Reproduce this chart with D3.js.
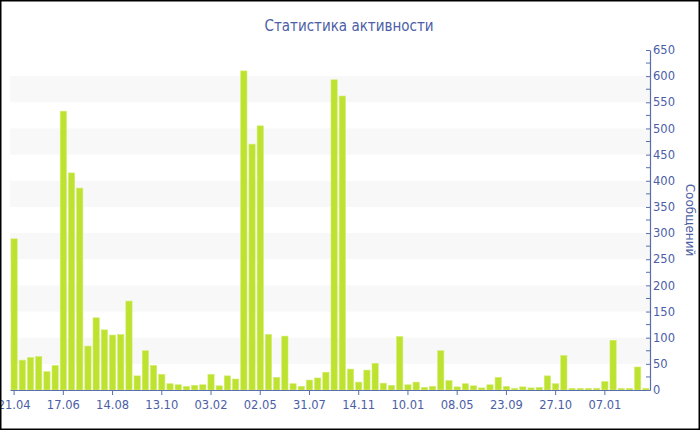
<!DOCTYPE html>
<html>
<head>
<meta charset="utf-8">
<script src="https://cdn.jsdelivr.net/npm/d3@7/dist/d3.min.js"></script>
<style>
  html, body { margin: 0; padding: 0; background: #fff; }
  svg { display: block; }
</style>
</head>
<body>
<div id="chart"></div>
<script>
const titleText = "Статистика активности";
const yAxisTitle = "Сообщений";
const values = [289, 57, 62, 64, 35, 47, 533, 415, 386, 84, 138, 115, 105, 106, 170, 27, 75, 47, 30, 12,
  10, 7, 9, 10, 30, 8, 27, 21, 610, 470, 505, 106, 24, 103, 12, 7, 19, 23, 34, 593,
  562, 40, 15, 38, 51, 13, 9, 102, 10, 15, 5, 7, 75, 18, 6, 12, 8, 4, 10, 24,
  7, 3, 6, 4, 5, 27, 12, 66, 3, 3, 3, 3, 16, 95, 3, 3, 44, 3];
const categories = d3.range(values.length);
const tickLabels = ["21.04", "17.06", "14.08", "13.10", "03.02", "02.05", "31.07", "14.11", "10.01", "08.05", "23.09", "27.10", "07.01"];
const tickStep = 6;
const yTicks = d3.range(0, 651, 50);
const yMinorTicks = d3.range(25, 651, 50);

(function () {
const W = 700, H = 430;
const pLeft = 10, pRight = 650, pTop = 50, pBottom = 390;
const axisColor = "#5a6eae";
const textColor = "#4b5ea6";
const font = "DejaVu Sans, Verdana, sans-serif";

const svg = d3.select("#chart").append("svg").attr("width", W).attr("height", H);

const x = d3.scaleBand().domain(categories).range([pLeft, pRight]).paddingInner(0.24).paddingOuter(0.12);
const y = d3.scaleLinear().domain([0, 650]).range([pBottom, pTop]);

// alternate bands
const bands = d3.range(50, 650, 100);
svg.append("g").selectAll("rect").data(bands).join("rect")
  .attr("x", pLeft).attr("width", pRight - pLeft)
  .attr("y", d => y(d + 50)).attr("height", d => y(d) - y(d + 50))
  .attr("fill", "#f8f8f8");

// bars
svg.append("g").selectAll("rect").data(values).join("rect")
  .attr("x", (d, i) => x(categories[i]))
  .attr("width", x.bandwidth())
  .attr("y", d => y(d))
  .attr("height", d => y(0) - y(d))
  .attr("fill", "#bde22f")
  .attr("stroke", "#d2ec6c").attr("stroke-width", 0.6);

// x axis
const xTickVals = categories.filter(i => i % tickStep === 0 && i / tickStep < tickLabels.length);
const xAxis = d3.axisBottom(x).tickValues(xTickVals).tickSize(5).tickSizeOuter(0)
  .tickFormat(d => tickLabels[d / tickStep]);
const gx = svg.append("g").attr("transform", `translate(0,${pBottom})`).call(xAxis);
gx.select(".domain").attr("stroke", axisColor).attr("stroke-width", 1.2);
gx.selectAll(".tick line").attr("stroke", axisColor);
gx.selectAll(".tick text").attr("fill", textColor).attr("font-family", font).attr("font-size", "11.5px").attr("dy", "0.95em");

// y axis (right)
const yAxis = d3.axisRight(y).tickValues(yTicks).tickSize(-4).tickSizeOuter(0).tickPadding(3);
const gy = svg.append("g").attr("transform", `translate(${pRight},0)`).call(yAxis);
gy.select(".domain").attr("stroke", axisColor).attr("stroke-width", 1.2);
gy.selectAll(".tick line").attr("stroke", axisColor);
gy.selectAll(".tick text").attr("fill", textColor).attr("font-family", font).attr("font-size", "11.5px").attr("x", 3);
svg.append("g").selectAll("line").data(yMinorTicks).join("line")
  .attr("x1", pRight - 4).attr("x2", pRight)
  .attr("y1", d => y(d)).attr("y2", d => y(d))
  .attr("stroke", axisColor).attr("stroke-width", 1);

// title
svg.append("text").attr("x", 349).attr("y", 31).attr("text-anchor", "middle")
  .attr("fill", textColor).attr("font-family", "DejaVu Sans Condensed, DejaVu Sans, sans-serif")
  .attr("font-size", "15px").text(titleText);

// y axis title
svg.append("text").attr("transform", `translate(686,${(pTop + pBottom) / 2}) rotate(90)`)
  .attr("text-anchor", "middle").attr("fill", textColor).attr("font-family", font)
  .attr("font-size", "12px").text(yAxisTitle);

// border
svg.append("rect").attr("x", 0.75).attr("y", 0.75).attr("width", W - 1.5).attr("height", H - 1.5)
  .attr("fill", "none").attr("stroke", "#000").attr("stroke-width", 1.5);
})();
</script>
</body>
</html>
